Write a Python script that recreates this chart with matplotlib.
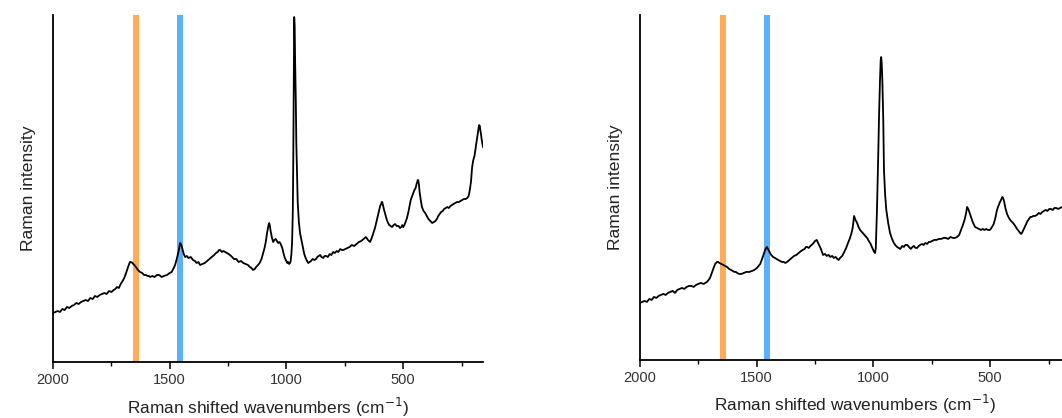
import numpy as np
from matplotlib import pyplot as plt

plt.rcParams['font.family'] = ['Liberation Sans', 'DejaVu Sans']

# spectrum A (left panel): wavenumber, intensity (arb.)
wn_a = [2000, 1990, 1980, 1970, 1960, 1950, 1940, 1930, 1920, 1910, 1900, 1890,
        1880, 1870, 1860, 1850, 1840, 1830, 1820, 1810, 1800, 1790, 1780, 1770,
        1760, 1750, 1740, 1733, 1726, 1718, 1710, 1702, 1695, 1687, 1680, 1674,
        1670, 1665, 1660, 1652, 1645, 1636, 1627, 1618, 1610, 1602, 1595, 1589,
        1584, 1575, 1565, 1555, 1545, 1535, 1525, 1512, 1500, 1492, 1485, 1477,
        1470, 1464, 1460, 1456, 1452, 1448, 1440, 1434, 1427, 1420, 1410, 1400,
        1392, 1385, 1377, 1370, 1360, 1350, 1340, 1330, 1320, 1310, 1302, 1295,
        1289, 1284, 1277, 1270, 1262, 1255, 1248, 1242, 1233, 1225, 1215, 1205,
        1195, 1185, 1175, 1165, 1157, 1150, 1143, 1136, 1130, 1122, 1115, 1107,
        1100, 1094, 1088, 1084, 1080, 1077, 1074, 1071, 1068, 1062, 1057, 1052,
        1046, 1041, 1036, 1030, 1025, 1018, 1012, 1007, 1003, 997, 993, 989, 985,
        982, 979, 976, 973, 971, 969, 967, 965, 963, 960, 958, 955, 952, 947,
        942, 936, 930, 924, 918, 912, 907, 901, 895, 888, 880, 874, 868, 862,
        856, 850, 843, 837, 830, 823, 815, 808, 800, 793, 785, 778, 770, 763,
        757, 748, 740, 730, 720, 710, 700, 690, 680, 670, 660, 651, 642, 635,
        628, 621, 615, 609, 603, 599, 595, 592, 590, 586, 582, 576, 570, 565,
        560, 554, 548, 541, 535, 528, 520, 514, 508, 504, 500, 495, 490, 484,
        478, 473, 468, 462, 457, 452, 447, 443, 440, 438, 436, 433, 430, 425,
        420, 413, 406, 399, 392, 384, 376, 369, 362, 356, 350, 344, 338, 331,
        325, 318, 312, 305, 298, 291, 285, 277, 270, 262, 255, 247, 240, 233,
        226, 220, 215, 210, 205, 200, 195, 190, 185, 181, 178, 176, 175, 172,
        170, 167, 165, 161, 158]
int_a = [49, 50, 51, 50, 53, 52, 55, 54, 56, 57, 59, 58,
         60, 61, 62, 61, 64, 63, 66, 65, 67, 68, 69, 68,
         71, 70, 72, 73, 75, 74, 78, 81, 84, 89, 94, 98,
         100, 100, 99, 97, 95, 92, 90, 89, 87, 87, 86, 86,
         85, 86, 85, 87, 87, 85, 86, 87, 89, 90, 93, 97,
         103, 109, 113, 119, 118, 115, 108, 105, 106, 104, 105, 102,
         101, 99, 100, 97, 98, 99, 101, 103, 105, 107, 109, 110,
         112, 112, 110, 111, 110, 109, 108, 107, 105, 103, 103, 100,
         101, 99, 98, 97, 95, 94, 92, 93, 95, 97, 99, 103,
         109, 114, 121, 128, 133, 137, 139, 136, 131, 124, 120, 122,
         123, 121, 119, 120, 118, 114, 108, 104, 102, 99, 100, 98, 99,
         101, 108, 120, 150, 200, 270, 345, 335, 300, 260, 220, 190, 160, 140,
         129, 122, 115, 108, 104, 101, 99, 100, 101, 103, 102, 103, 105, 106,
         107, 105, 104, 106, 106, 105, 108, 107, 110, 109, 111, 110, 113, 112,
         112, 113, 114, 115, 117, 116, 118, 120, 121, 123, 125, 122, 120, 124,
         129, 134, 140, 146, 152, 156, 158, 160, 160, 156, 152, 147, 142, 139,
         137, 136, 135, 137, 138, 136, 136, 134, 135, 137, 135, 137, 140, 144,
         150, 156, 162, 166, 169, 172, 174, 178, 180, 182, 182, 178, 170, 162,
         155, 151, 149, 146, 143, 141, 139, 140, 141, 143, 146, 148, 150, 151,
         153, 154, 155, 154, 156, 157, 158, 159, 160, 160, 161, 162, 163, 163,
         164, 166, 172, 180, 195, 202, 206, 214, 222, 228, 233, 236, 237, 236,
         232, 228, 224, 218, 215]

# spectrum B (right panel)
wn_b = [2000, 1990, 1980, 1970, 1960, 1950, 1940, 1930, 1920, 1910, 1900, 1890,
        1880, 1870, 1860, 1850, 1840, 1830, 1820, 1810, 1800, 1790, 1780, 1770,
        1760, 1750, 1740, 1727, 1713, 1706, 1700, 1694, 1688, 1683, 1678, 1674,
        1670, 1665, 1660, 1652, 1645, 1636, 1627, 1618, 1610, 1602, 1595, 1589,
        1584, 1575, 1565, 1555, 1545, 1532, 1520, 1510, 1499, 1492, 1485, 1477,
        1470, 1464, 1460, 1456, 1450, 1445, 1438, 1430, 1422, 1415, 1408, 1400,
        1392, 1385, 1377, 1370, 1360, 1350, 1340, 1330, 1320, 1310, 1302, 1295,
        1289, 1284, 1277, 1270, 1260, 1250, 1243, 1235, 1225, 1216, 1208, 1200,
        1192, 1185, 1177, 1170, 1162, 1155, 1149, 1143, 1134, 1125, 1117, 1109,
        1102, 1095, 1089, 1083, 1077, 1070, 1064, 1057, 1050, 1042, 1035, 1027,
        1020, 1012, 1005, 997, 993, 990, 985, 980, 976, 972, 969, 967, 965, 962,
        958, 955, 950, 945, 937, 929, 922, 915, 907, 899, 892, 885, 877, 870,
        863, 855, 848, 840, 833, 827, 820, 813, 806, 800, 792, 785, 778, 770,
        763, 757, 748, 740, 730, 720, 710, 700, 690, 680, 670, 660, 651, 642,
        633, 625, 617, 610, 604, 599, 594, 588, 581, 575, 565, 556, 548, 540,
        532, 525, 517, 510, 501, 492, 485, 478, 471, 465, 458, 452, 448, 445,
        440, 435, 428, 420, 411, 402, 393, 385, 378, 372, 368, 364, 358, 352,
        346, 340, 334, 328, 322, 316, 308, 300, 292, 285, 277, 270, 262, 255,
        247, 240, 232, 225, 217, 210, 201, 192, 186, 180, 175, 170, 165, 160]
int_b = [57, 58, 59, 58, 61, 60, 63, 62, 64, 65, 66, 65,
         67, 68, 69, 67, 70, 71, 72, 71, 73, 74, 74, 73,
         75, 76, 77, 76, 78, 80, 82, 86, 90, 93, 96, 97,
         98, 98, 97, 96, 95, 94, 93, 91, 90, 89, 88, 88,
         87, 86, 86, 87, 88, 88, 89, 90, 92, 94, 96, 101,
         106, 110, 112, 113, 110, 108, 105, 103, 102, 101, 100, 99,
         98, 98, 97, 98, 100, 102, 104, 105, 107, 109, 110, 111,
         113, 113, 112, 114, 116, 119, 120, 116, 111, 105, 106, 104,
         105, 103, 104, 102, 103, 101, 100, 102, 104, 108, 112, 117,
         121, 126, 132, 144, 140, 137, 133, 130, 128, 126, 124, 122,
         119, 116, 112, 108, 107, 112, 150, 200, 245, 280, 300, 303, 298, 280,
         240, 190, 165, 150, 137, 127, 122, 118, 115, 113, 112, 111, 114, 113,
         115, 115, 113, 111, 113, 114, 112, 112, 114, 115, 116, 115, 117, 116,
         118, 118, 119, 120, 120, 121, 121, 122, 122, 121, 123, 122, 122, 123,
         125, 130, 135, 140, 146, 153, 151, 147, 142, 138, 133, 132, 131, 130,
         131, 130, 131, 130, 130, 133, 136, 142, 150, 154, 158, 161, 163, 162,
         158, 152, 146, 142, 139, 137, 134, 131, 129, 127, 126, 127, 130, 133,
         136, 139, 141, 143, 143, 144, 144, 145, 147, 146, 148, 149, 150, 149,
         151, 151, 150, 152, 152, 151, 152, 153, 153, 154, 154, 155, 155, 155]

# highlighted bands (cm^-1)
band_orange = (1631, 1657)
band_blue = (1443, 1469)

fig = plt.figure(figsize=(10.62, 4.18), dpi=100)
ax1 = fig.add_axes([0.0499, 0.134, 0.405, 0.830])
ax2 = fig.add_axes([0.6026, 0.139, 0.405, 0.825])

for ax, wn, inten, ytop in [(ax1, wn_a, int_a, 347), (ax2, wn_b, int_b, 345)]:
    ax.axvspan(*band_orange, ymin=0, ymax=1.0, color='#ffac59', lw=0, zorder=1)
    ax.axvspan(*band_blue, ymin=0, ymax=1.0, color='#5cb0fa', lw=0, zorder=1)
    ax.plot(wn, inten, color='black', lw=1.3, zorder=3)
    ax.set_xlim(2000, 158)
    ax.set_ylim(0, ytop)
    ax.set_xticks([2000, 1500, 1000, 500])
    ax.set_xticks([1750, 1250, 750, 250], minor=True)
    ax.set_yticks([])
    for s in ['top', 'right']:
        ax.spines[s].set_visible(False)
    for s in ['left', 'bottom']:
        ax.spines[s].set_linewidth(1.3)
    ax.tick_params(axis='x', which='major', direction='out', length=5, width=1.1,
                   labelsize=10.5, labelcolor='#333333', pad=3)
    ax.tick_params(axis='x', which='minor', direction='out', length=3, width=1.0)
    ax.set_xlabel('Raman shifted wavenumbers (cm$^{-1}$)', fontsize=12.4,
                  color='#222222', labelpad=6)
    ax.set_ylabel('Raman intensity', fontsize=12.6, color='#222222', labelpad=12)

fig.savefig('out.png', dpi=100)
